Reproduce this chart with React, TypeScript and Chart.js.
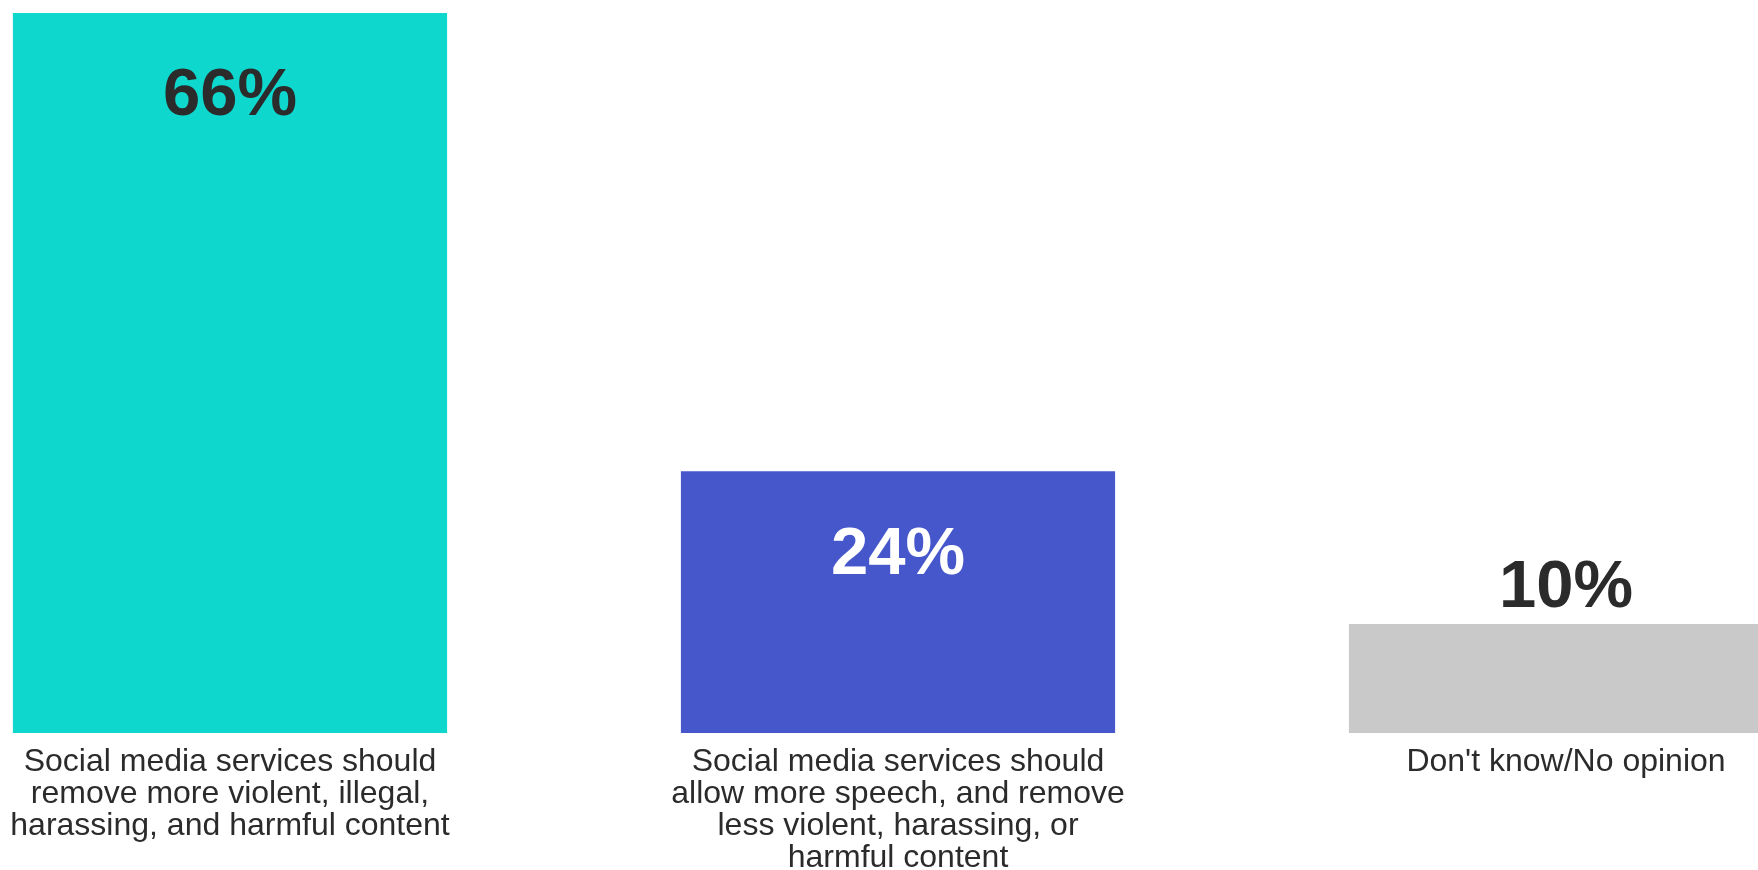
import React, { useEffect, useRef } from "react";
import { Chart, registerables } from "chart.js";

Chart.register(...registerables);

const categories: string[][] = [
  ["Social media services should", "remove more violent, illegal,", "harassing, and harmful content"],
  ["Social media services should", "allow more speech, and remove", "less violent, harassing, or", "harmful content"],
  ["Don't know/No opinion"],
];
const values: number[] = [66, 24, 10];
const barColors: string[] = ["#0ED7CE", "#4657CB", "#C9C9C9"];
const valueLabelColors: string[] = ["#2B2B2B", "#FFFFFF", "#2B2B2B"];

const FONT = "'Liberation Sans', Arial, Helvetica, sans-serif";

const valueLabelPlugin = {
  id: "valueLabels",
  afterDatasetsDraw(chart: any) {
    const ctx = chart.ctx;
    const meta = chart.getDatasetMeta(0);
    ctx.save();
    ctx.font = `bold 67px ${FONT}`;
    ctx.textAlign = "center";
    ctx.textBaseline = "middle";
    meta.data.forEach((bar: any, i: number) => {
      const h = bar.base - bar.y;
      const inside = h > 160;
      const y = inside ? bar.y + 84 : bar.y - 35;
      ctx.fillStyle = valueLabelColors[i];
      ctx.fillText(`${values[i]}%`, bar.x, y);
    });
    ctx.restore();
  },
};

export default function App() {
  const ref = useRef<HTMLCanvasElement | null>(null);
  useEffect(() => {
    if (!ref.current) return;
    const chart = new Chart(ref.current, {
      type: "bar",
      data: {
        labels: categories,
        datasets: [
          {
            data: values,
            backgroundColor: barColors,
            borderWidth: 0,
            categoryPercentage: 1,
            barPercentage: 0.65,
          },
        ],
      },
      options: {
        responsive: false,
        animation: false,
        devicePixelRatio: 1,
        layout: { padding: { top: 13, bottom: 3, left: 0, right: 0 } },
        plugins: { legend: { display: false }, tooltip: { enabled: false } },
        scales: {
          y: { display: false, min: 0, max: 66 },
          x: {
            grid: { display: false, drawTicks: false },
            border: { display: false },
            ticks: {
              padding: 13,
              maxRotation: 0,
              autoSkip: false,
              color: "#2B2B2B",
              font: { family: FONT, size: 32, lineHeight: 1.0 },
            },
          },
        },
      },
      plugins: [valueLabelPlugin],
    });
    return () => chart.destroy();
  }, []);
  return (
    <div
      style={{
        position: "fixed",
        left: 0,
        top: 0,
        width: 1758,
        height: 870,
        overflow: "hidden",
        background: "#ffffff",
      }}
    >
      <canvas
        ref={ref}
        width={2004}
        height={890}
        style={{ position: "absolute", left: -104, top: 0, width: 2004, height: 890 }}
      />
    </div>
  );
}
